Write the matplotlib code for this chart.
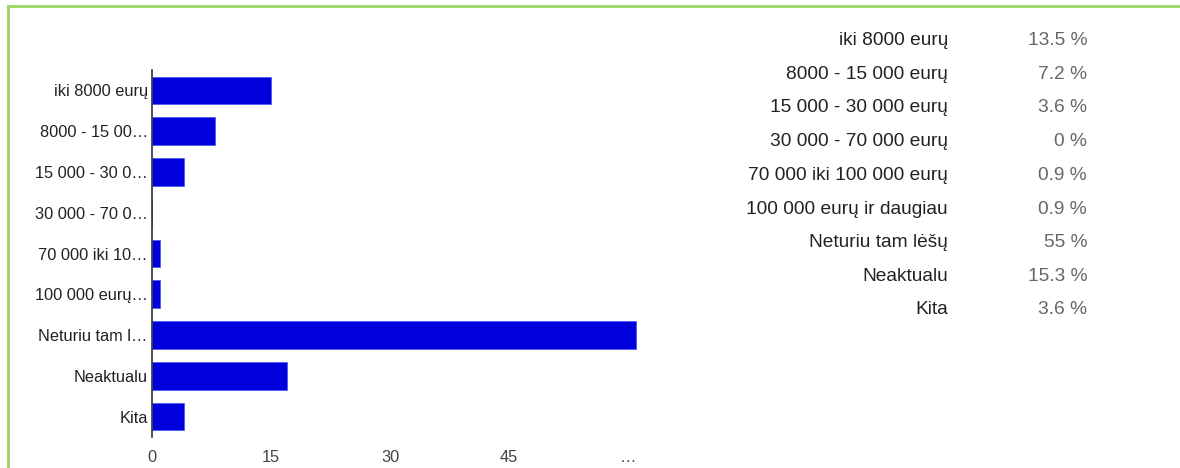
import matplotlib
matplotlib.use("Agg")
import matplotlib.pyplot as plt
from matplotlib.lines import Line2D

plt.rcParams['font.family'] = ['Liberation Sans', 'DejaVu Sans']

# answer options (full text, used in the table on the right)
categories = ["iki 8000 eurų", "8000 - 15 000 eurų", "15 000 - 30 000 eurų",
              "30 000 - 70 000 eurų", "70 000 iki 100 000 eurų",
              "100 000 eurų ir daugiau", "Neturiu tam lėšų", "Neaktualu", "Kita"]
# truncated labels as shown on the bar chart axis
short_labels = ["iki 8000 eurų", "8000 - 15 00…", "15 000 - 30 0…",
                "30 000 - 70 0…", "70 000 iki 10…", "100 000 eurų…",
                "Neturiu tam l…", "Neaktualu", "Kita"]
counts = [15, 8, 4, 0, 1, 1, 61, 17, 4]
percents = [13.5, 7.2, 3.6, 0, 0.9, 0.9, 55, 15.3, 3.6]
x_ticks = [0, 15, 30, 45, 60]
x_tick_labels = ["0", "15", "30", "45", "…"]

W, H = 1180, 468
fig = plt.figure(figsize=(W / 100, H / 100), dpi=100)
fig.patch.set_facecolor('white')

ax = fig.add_axes([152 / W, 1 - 437 / H, 488 / W, 367 / H])
y = list(range(len(counts)))
ax.barh(y, counts, height=0.68, color='#0000dc', edgecolor='#4a5cf0', linewidth=0.6)
ax.set_ylim(len(counts) - 0.5, -0.5)
ax.set_xlim(0, 61.5)
ax.set_yticks(y)
ax.set_yticklabels(short_labels, fontsize=11.8, color='#222222')
ax.set_xticks(x_ticks)
ax.set_xticklabels(x_tick_labels, fontsize=11.8, color='#444444')
ax.tick_params(length=0, pad=3)
ax.tick_params(axis='x', pad=9)
for s in ['top', 'right', 'bottom']:
    ax.spines[s].set_visible(False)
ax.spines['left'].set_color('#333333')
ax.spines['left'].set_linewidth(1.2)

# table of percentages on the right (baseline positions in pixels)
row_base = [45, 79, 112, 146, 180, 214, 247, 281, 314]
for cat, pct, rb in zip(categories, percents, row_base):
    fig.text(948 / W, 1 - rb / H, cat, ha='right', va='baseline',
             fontsize=13.8, color='#222222')
    fig.text(1087 / W, 1 - rb / H, f"{pct:g} %", ha='right', va='baseline',
             fontsize=13.8, color='#666666')

# green frame lines (top and left)
green = '#9bd464'
fig.add_artist(Line2D([7.5 / W, 1], [1 - 6 / H, 1 - 6 / H], color=green, linewidth=2,
                      transform=fig.transFigure))
fig.add_artist(Line2D([7.5 / W, 7.5 / W], [0, 1 - 6 / H], color=green, linewidth=2,
                      transform=fig.transFigure))

fig.savefig("out.png", dpi=100)
